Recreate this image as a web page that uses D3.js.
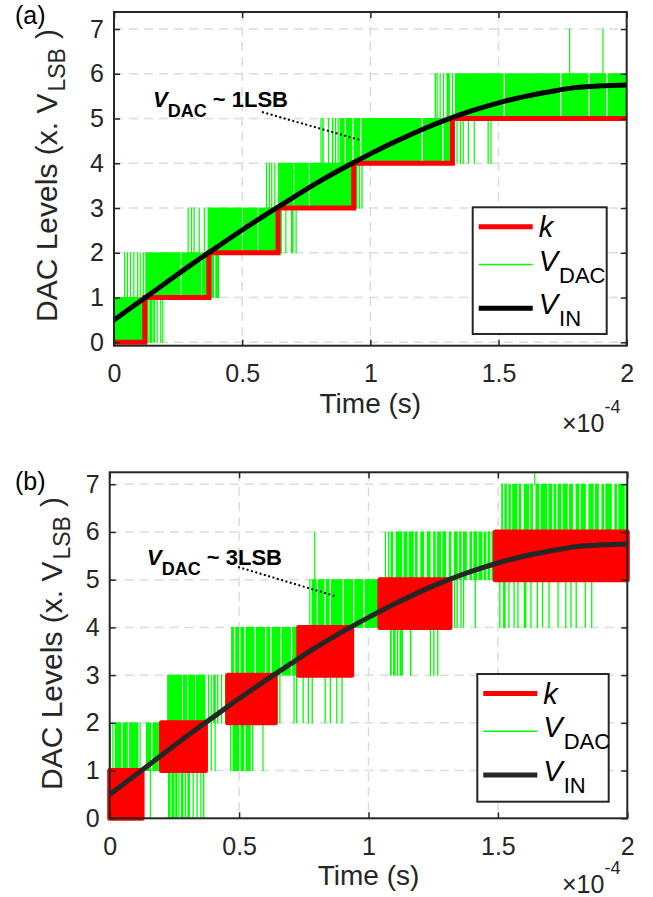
<!DOCTYPE html>
<html>
<head>
<meta charset="utf-8">
<script src="https://cdn.jsdelivr.net/npm/d3@7"></script>
<style>
  body { margin: 0; background: #fff; }
  svg { display: block; font-family: "Liberation Sans", Arial, Helvetica, sans-serif; }
</style>
</head>
<body>
<svg id="fig" width="653" height="897"></svg>
<script>
// ---- data (time in units of 1e-4 s, levels in LSB) ----
const xTicks = [0, 0.5, 1, 1.5, 2];
const xTickLabels = ["0", "0.5", "1", "1.5", "2"];
const yTicks = [0, 1, 2, 3, 4, 5, 6, 7];

const vinTime  = [0, 0.1, 0.2, 0.3, 0.4, 0.5, 0.6, 0.7, 0.8, 0.9, 1.0, 1.1, 1.2, 1.3, 1.4, 1.5, 1.6, 1.7, 1.8, 1.9, 2.0];
const vinLevel = [0.50, 0.91, 1.32, 1.73, 2.12, 2.51, 2.88, 3.24, 3.59, 3.91, 4.21, 4.49, 4.75, 4.98, 5.18, 5.35, 5.49, 5.60, 5.69, 5.73, 5.75];

// (a) k steps
const kaTime  = [0, 0.12, 0.37, 0.64, 0.935, 1.32, 2.0];
const kaLevel = [0, 1, 2, 3, 4, 5, 5];

// (b) k toggles between low and high inside each interval
const kbTime = [0, 0.125, 0.2, 0.37, 0.456, 0.64, 0.73, 0.935, 1.044, 1.315, 1.49, 2.0];
const kbLow  = [0, 1, 1, 2, 2, 3, 3, 4, 4, 5, 5];
const kbHigh = [1, 1, 2, 2, 3, 3, 4, 4, 5, 5, 6];

// V_DAC: [low level, high level, time runs where the trace fills the band]
const vdacA = [
  [0, 1, [[0, 0.118], [0.122, 0.135], [0.138, 0.15], [0.153, 0.16], [0.166, 0.17], [0.18, 0.183], [0.188, 0.19]]],
  [1, 2, [[0.039, 0.041], [0.05, 0.052], [0.062, 0.064], [0.075, 0.077], [0.09, 0.092], [0.1, 0.102], [0.112, 0.114],
          [0.122, 0.26], [0.263, 0.34], [0.343, 0.37], [0.375, 0.39], [0.395, 0.41]]],
  [2, 3, [[0.287, 0.29], [0.3, 0.302], [0.31, 0.312], [0.33, 0.332], [0.35, 0.352], [0.365, 0.5], [0.503, 0.56],
          [0.563, 0.64], [0.648, 0.655], [0.668, 0.672], [0.69, 0.7], [0.708, 0.712]]],
  [3, 4, [[0.593, 0.596], [0.604, 0.606], [0.613, 0.615], [0.625, 0.627], [0.64, 0.7], [0.703, 0.76], [0.763, 0.935],
          [0.94, 0.95], [0.955, 0.958], [0.965, 0.97]]],
  [4, 5, [[0.805, 0.808], [0.812, 0.818], [0.835, 0.837], [0.85, 0.856], [0.862, 0.866], [0.872, 0.874], [0.88, 0.9],
          [0.905, 0.93], [0.935, 0.96], [0.965, 1.2], [1.205, 1.28], [1.285, 1.31], [1.336, 1.339], [1.349, 1.352],
          [1.36, 1.364], [1.38, 1.383], [1.403, 1.407], [1.457, 1.462], [1.468, 1.471]]],
  [5, 6, [[1.251, 1.256], [1.258, 1.262], [1.27, 1.274], [1.283, 1.287], [1.297, 1.31], [1.318, 1.323], [1.33, 1.52],
          [1.525, 1.74], [1.745, 1.85], [1.855, 1.92], [1.925, 2.0]]],
  [6, 7, [[1.775, 1.777], [1.905, 1.907]]]
];

const vdacB = [
  [0, 1, [[0.155, 0.158], [0.225, 0.235], [0.238, 0.25], [0.253, 0.262], [0.265, 0.27], [0.275, 0.285], [0.29, 0.295],
          [0.3, 0.31], [0.32, 0.325], [0.335, 0.34], [0.35, 0.353], [0.36, 0.366]]],
  [1, 2, [[0.0, 0.004], [0.01, 0.013], [0.02, 0.045], [0.05, 0.07], [0.075, 0.11], [0.115, 0.118], [0.14, 0.16],
          [0.165, 0.19], [0.39, 0.392], [0.405, 0.408], [0.465, 0.47], [0.475, 0.5], [0.505, 0.52], [0.525, 0.545],
          [0.55, 0.555], [0.59, 0.593]]],
  [2, 3, [[0.222, 0.28], [0.283, 0.3], [0.303, 0.33], [0.333, 0.37], [0.38, 0.384], [0.39, 0.393], [0.4, 0.41],
          [0.415, 0.42], [0.43, 0.433], [0.445, 0.448], [0.64, 0.645], [0.655, 0.66], [0.71, 0.714], [0.72, 0.725],
          [0.745, 0.75], [0.765, 0.77], [0.78, 0.785], [0.83, 0.835], [0.85, 0.855], [0.875, 0.88], [0.895, 0.9]]],
  [3, 4, [[0.469, 0.48], [0.485, 0.5], [0.505, 0.52], [0.525, 0.56], [0.565, 0.6], [0.605, 0.62], [0.625, 0.66],
          [0.665, 0.7], [0.705, 0.72], [1.083, 1.09], [1.095, 1.105], [1.11, 1.115], [1.12, 1.133], [1.16, 1.166],
          [1.237, 1.242], [1.25, 1.255], [1.265, 1.27]]],
  [4, 5, [[0.771, 0.775], [0.78, 0.8], [0.805, 0.83], [0.835, 0.85], [0.855, 0.9], [0.905, 0.94], [0.945, 0.98],
          [0.985, 1.043], [1.33, 1.335], [1.34, 1.345], [1.355, 1.36], [1.365, 1.37], [1.41, 1.415], [1.505, 1.51],
          [1.52, 1.53], [1.54, 1.545], [1.56, 1.565], [1.575, 1.58], [1.6, 1.61], [1.625, 1.63], [1.65, 1.655],
          [1.67, 1.675], [1.695, 1.7], [1.73, 1.735], [1.76, 1.765], [1.78, 1.785], [1.8, 1.805], [1.835, 1.84],
          [1.86, 1.865]]],
  [5, 6, [[0.79, 0.793], [1.063, 1.066], [1.075, 1.08], [1.085, 1.095], [1.105, 1.13], [1.135, 1.15], [1.155, 1.175],
          [1.18, 1.19], [1.2, 1.215], [1.225, 1.24], [1.25, 1.26], [1.265, 1.28], [1.285, 1.3], [1.31, 1.32],
          [1.33, 1.345], [1.35, 1.36], [1.365, 1.38], [1.39, 1.4], [1.405, 1.42], [1.425, 1.44], [1.445, 1.455],
          [1.46, 1.47], [1.475, 1.49]]],
  [6, 7, [[1.513, 1.52], [1.525, 1.535], [1.54, 1.55], [1.555, 1.575], [1.58, 1.59], [1.6, 1.62], [1.625, 1.635],
          [1.645, 1.66], [1.665, 1.69], [1.695, 1.71], [1.715, 1.725], [1.73, 1.745], [1.75, 1.77], [1.775, 1.79],
          [1.8, 1.815], [1.82, 1.84], [1.85, 1.87], [1.875, 1.89], [1.9, 1.91], [1.915, 1.94], [1.95, 1.96],
          [1.965, 1.99], [1.993, 2.0]]],
  [7, 7.25, [[1.64, 1.642]]]
];

const legendNames = [["k", ""], ["V", "DAC"], ["V", "IN"]];
const noteA = "1LSB";
const noteB = "3LSB";

const axisColor = "#262626";
const svg = d3.select("#fig");

function drawPanel(o) {
  const g = svg.append("g");
  const x = d3.scaleLinear().domain([0, 2]).range([o.left, o.right]);
  const y = d3.scaleLinear().domain(o.yDomain).range([o.bottom, o.top]);

  // grid
  g.append("g").selectAll("line")
    .data(yTicks.filter(v => y(v) < o.bottom - 1 && y(v) > o.top + 1))
    .join("line")
    .attr("x1", o.left).attr("x2", o.right)
    .attr("y1", d => y(d)).attr("y2", d => y(d))
    .attr("stroke", "#dcdcdc").attr("stroke-width", 1.5).attr("stroke-dasharray", "9,6");
  g.append("g").selectAll("line")
    .data(xTicks.slice(1, -1))
    .join("line")
    .attr("x1", d => x(d)).attr("x2", d => x(d))
    .attr("y1", o.top).attr("y2", o.bottom)
    .attr("stroke", "#dcdcdc").attr("stroke-width", 1.5).attr("stroke-dasharray", "9,6");

  // V_DAC
  const runs = o.vdac.flatMap(b => b[2].map(r => ({ lo: b[0], hi: b[1], t0: r[0], t1: r[1] })));
  g.append("g").selectAll("rect")
    .data(runs)
    .join("rect")
    .attr("x", d => x(d.t0))
    .attr("width", d => Math.max(x(d.t1) - x(d.t0), 1.2))
    .attr("y", d => y(d.hi) - 0.5)
    .attr("height", d => y(d.lo) - y(d.hi) + 1)
    .attr("fill", "#00ff00");

  // k
  o.drawK(g, x, y);

  // V_IN
  const vin = vinTime.map((t, i) => [t, vinLevel[i]]);
  g.append("path")
    .attr("d", d3.line().x(d => x(d[0])).y(d => y(d[1])).curve(d3.curveMonotoneX)(vin))
    .attr("fill", "none").attr("stroke", o.vinColor).attr("stroke-width", 5);

  // annotation
  g.append("line")
    .attr("x1", o.noteLine[0]).attr("y1", o.noteLine[1])
    .attr("x2", o.noteLine[2]).attr("y2", o.noteLine[3])
    .attr("stroke", "#000").attr("stroke-width", 2).attr("stroke-dasharray", "2,2.5");
  const nt = g.append("text")
    .attr("x", o.noteX).attr("y", o.noteY)
    .attr("font-size", 22).attr("font-weight", "bold").attr("fill", "#000");
  nt.append("tspan").attr("font-style", "italic").text("V");
  nt.append("tspan").attr("font-size", 18).attr("dy", 10).text("DAC");
  nt.append("tspan").attr("dy", -10).text(" ~ " + o.note);

  // axes box with inward ticks
  const bottom = g.append("g").attr("transform", `translate(0,${o.bottom})`)
    .call(d3.axisBottom(x).tickValues(xTicks).tickFormat((d, i) => xTickLabels[i]).tickSize(-6).tickPadding(19));
  const left = g.append("g").attr("transform", `translate(${o.left},0)`)
    .call(d3.axisLeft(y).tickValues(yTicks).tickFormat(d3.format("d")).tickSize(-6).tickPadding(10));
  g.append("g").attr("transform", `translate(0,${o.top})`)
    .call(d3.axisTop(x).tickValues(xTicks).tickFormat("").tickSize(-6));
  g.append("g").attr("transform", `translate(${o.right},0)`)
    .call(d3.axisRight(y).tickValues(yTicks).tickFormat("").tickSize(-6));
  g.selectAll(".domain").remove();
  g.selectAll(".tick line").attr("stroke", axisColor).attr("stroke-width", 1.5);
  [bottom, left].forEach(a => a.attr("font-family", null).attr("font-size", 25)
    .selectAll("text").attr("fill", axisColor));
  g.append("rect")
    .attr("x", o.left).attr("y", o.top)
    .attr("width", o.right - o.left).attr("height", o.bottom - o.top)
    .attr("fill", "none").attr("stroke", axisColor).attr("stroke-width", 2);

  // axis labels
  g.append("text")
    .attr("x", (o.left + o.right) / 2).attr("y", o.xLabelY)
    .attr("text-anchor", "middle").attr("font-size", 28).attr("fill", axisColor)
    .text("Time (s)");
  const yl = g.append("text")
    .attr("transform", `translate(${o.yLabelX},${o.yLabelStart}) rotate(-90)`)
    .attr("font-size", 30).attr("fill", axisColor);
  yl.append("tspan").text("DAC Levels (x. V");
  yl.append("tspan").attr("font-size", 23).attr("dy", 8).attr("dx", 2).text("LSB");
  yl.append("tspan").attr("dy", -8).attr("dx", 9).text(")");

  const ex = g.append("text")
    .attr("x", o.expX).attr("y", o.expY).attr("font-size", 25).attr("fill", axisColor);
  ex.append("tspan").text("\u00d710");
  ex.append("tspan").attr("font-size", 18).attr("dy", -19).text("-4");

  g.append("text")
    .attr("x", 15).attr("y", o.tagY).attr("font-size", 25).attr("fill", "#000")
    .text(o.tag);

  // legend
  const lg = g.append("g").attr("transform", `translate(${o.legend[0]},${o.legend[1]})`);
  lg.append("rect").attr("width", o.legend[2]).attr("height", o.legend[3])
    .attr("fill", "#fff").attr("stroke", axisColor).attr("stroke-width", 2);
  const lineY = [19.4, 57.3, 101];
  const textY = [29.7, 63.3, 106.8];
  const styles = [["#ff0000", 5], ["#00ff00", 1.5], [o.vinColor, 5]];
  legendNames.forEach((nm, i) => {
    lg.append("line").attr("x1", 6).attr("x2", 60).attr("y1", lineY[i]).attr("y2", lineY[i])
      .attr("stroke", styles[i][0]).attr("stroke-width", styles[i][1]);
    const t = lg.append("text").attr("x", 66).attr("y", textY[i])
      .attr("font-size", 29).attr("fill", "#000");
    t.append("tspan").attr("font-style", "italic").text(nm[0]);
    if (nm[1]) t.append("tspan").attr("font-size", 22).attr("dy", 12).attr("dx", 1).text(nm[1]);
  });
}

// panel (a)
drawPanel({
  left: 114, right: 626.7, top: 12, bottom: 345.7, yDomain: [-0.076, 7.38],
  vdac: vdacA, vinColor: "#000",
  drawK: (g, x, y) => {
    const k = kaTime.map((t, i) => [t, kaLevel[i]]);
    g.append("path")
      .attr("d", d3.line().x(d => x(d[0])).y(d => y(d[1])).curve(d3.curveStepAfter)(k))
      .attr("fill", "none").attr("stroke", "#ff0000").attr("stroke-width", 5);
  },
  note: noteA, noteX: 153, noteY: 107, noteLine: [262, 112, 360, 140],
  xLabelY: 413, yLabelX: 57, yLabelStart: 322, expX: 562, expY: 432,
  tag: "(a)", tagY: 24, legend: [472.7, 207.3, 134, 126.7]
});

// panel (b)
drawPanel({
  left: 109.7, right: 627.3, top: 472.3, bottom: 818.3, yDomain: [0, 7.25],
  vdac: vdacB, vinColor: "#262626",
  drawK: (g, x, y) => {
    const seg = kbLow.map((lo, i) => ({ t0: kbTime[i], t1: kbTime[i + 1], lo: lo, hi: kbHigh[i] }));
    g.append("g").selectAll("rect")
      .data(seg)
      .join("rect")
      .attr("x", d => x(d.t0)).attr("width", d => x(d.t1) - x(d.t0))
      .attr("y", d => y(d.hi)).attr("height", d => y(d.lo) - y(d.hi))
      .attr("fill", "#ff0000").attr("stroke", "#ff0000").attr("stroke-width", 5)
      .attr("stroke-linejoin", "round");
  },
  note: noteB, noteX: 147, noteY: 565, noteLine: [238, 567, 335, 596],
  xLabelY: 885, yLabelX: 62, yLabelStart: 790, expX: 562, expY: 893,
  tag: "(b)", tagY: 490, legend: [477.3, 674, 131.4, 127.7]
});
</script>
</body>
</html>
